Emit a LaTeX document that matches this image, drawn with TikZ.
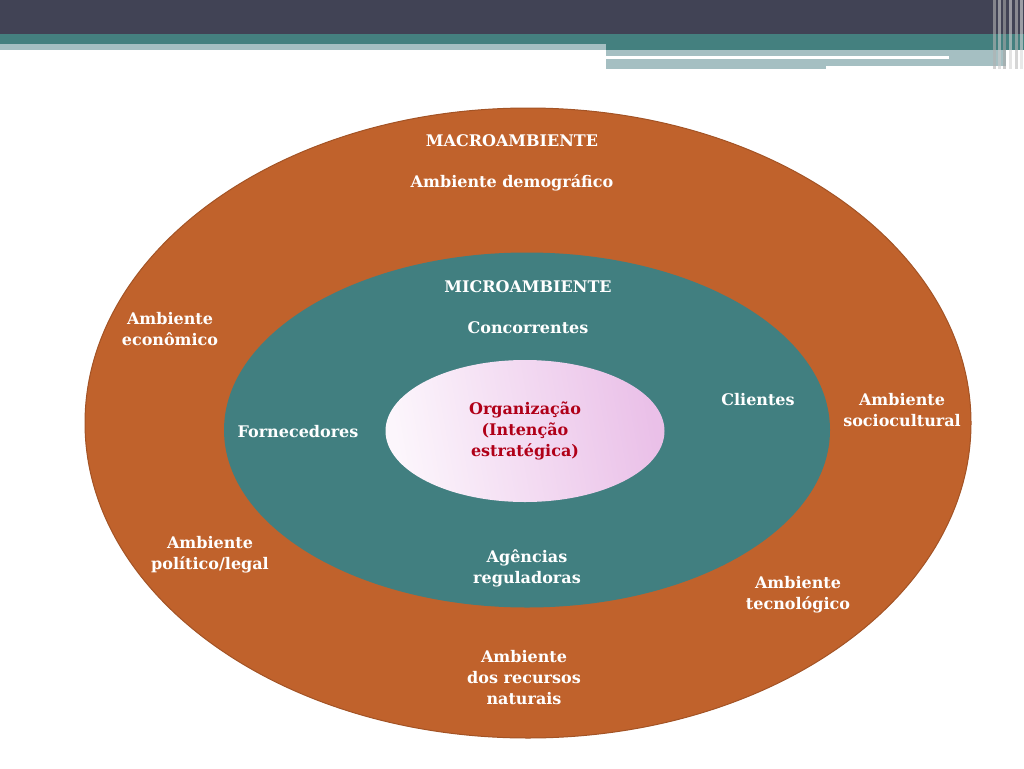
\documentclass[tikz,border=0pt]{standalone}
\usepackage{fontspec}
\setmainfont{DejaVu Serif}
\usetikzlibrary{shapes.geometric, positioning}
\definecolor{headdark}{RGB}{65,67,85}
\definecolor{headteal}{RGB}{68,128,127}
\definecolor{headlight}{RGB}{165,191,194}
\definecolor{macrofill}{RGB}{192,98,44}
\definecolor{microfill}{RGB}{65,127,128}
\definecolor{orgleft}{RGB}{252,246,252}
\definecolor{orgright}{RGB}{234,192,232}
\definecolor{orgtext}{RGB}{176,0,24}
\tikzstyle{ring} = [ellipse, inner sep=0pt]
\tikzstyle{macro} = [ring, fill=macrofill, draw=macrofill!85!black, line width=1pt]
\tikzstyle{micro} = [ring, fill=microfill]
\tikzstyle{org} = [ring, left color=orgleft, right color=orgright, shading angle=100]
\tikzstyle{label} = [font=\bfseries\fontsize{16}{21}\selectfont, text=white, align=center, inner sep=1pt]
\tikzstyle{orglabel} = [label, text=orgtext]

\begin{document}
\begin{tikzpicture}[x=1pt, y=-1pt]
    \useasboundingbox (0,0) rectangle (1024,768);

    % Header bands.
    \fill [headdark] (0,0) rectangle (1024,34);
    \fill [headteal] (0,34) rectangle (1024,44);
    \fill [headlight] (0,44) rectangle (606,50);
    \fill [headteal] (606,44) rectangle (1024,50);
    \fill [headlight] (606,50) rectangle (1006,66);
    \fill [headlight] (606,66) rectangle (826,69);
    \fill [white] (606,56) rectangle (949,59);
    \foreach\x/\c in {993/gray!60, 998/gray!40, 1003/gray!70, 1009/gray!35, 1015/gray!55, 1020/gray!30} {
        \fill [\c, opacity=0.6] (\x,0) rectangle ++(2.5,69);
    }

    % Rings.
    \node (macro) [macro, minimum width=886pt, minimum height=630pt] at (528,423) {};
    \node (micro) [micro, minimum width=606pt, minimum height=355pt] at (527,430) {};
    \node (org) [org, minimum width=279pt, minimum height=142pt] at (525,431) {};

    % Macro level.
    \node (macrotitle) [label] at (512,141) {MACROAMBIENTE};
    \node (demog) [label] at (512,183) {Ambiente demográfico};
    \node (econ) [label] at (170,329) {Ambiente\\econômico};
    \node (socio) [label] at (902,410) {Ambiente\\sociocultural};
    \node (polit) [label] at (210,555) {Ambiente\\político/legal};
    \node (tecno) [label] at (798,595) {Ambiente\\tecnológico};
    \node (natur) [label] at (524,678) {Ambiente\\dos recursos\\naturais};

    % Micro level.
    \node (microtitle) [label] at (528,287) {MICROAMBIENTE};
    \node (concor) [label] at (528,328) {Concorrentes};
    \node (client) [label] at (758,400) {Clientes};
    \node (fornec) [label] at (298,432) {Fornecedores};
    \node (agenc) [label] at (527,568) {Agências\\reguladoras};

    % Organization.
    \node (orgtext) [orglabel] at (org) {Organização\\(Intenção\\estratégica)};
\end{tikzpicture}
\end{document}
